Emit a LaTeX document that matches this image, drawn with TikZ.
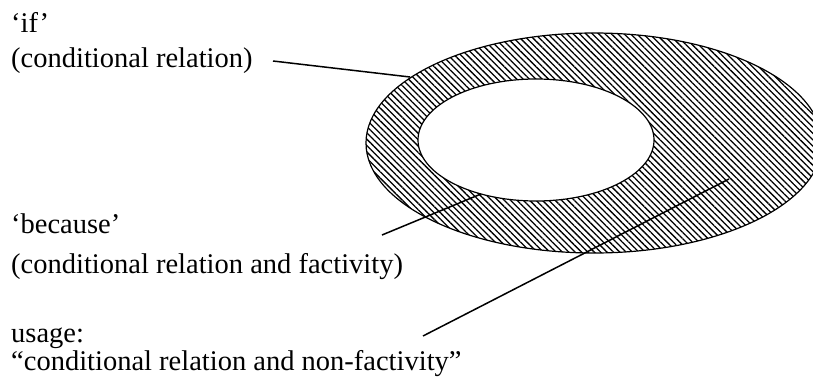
\documentclass[tikz,border=0pt]{standalone}
\usepackage{fontspec}
\setmainfont{Liberation Serif}
\usetikzlibrary{patterns.meta,shapes.geometric}
\begin{document}
\begin{tikzpicture}[x=1pt,y=-1pt,
  lbl/.style={anchor=base west,inner sep=0pt,font=\fontsize{28.5}{34}\selectfont},
  ringnode/.style={ellipse,draw,line width=1.2pt,inner sep=0pt,outer sep=0pt},
  conn/.style={line width=1.5pt}]
\useasboundingbox (0,0) rectangle (813,377);
\node[ringnode,minimum width=456pt,minimum height=220pt,
  pattern={Lines[angle=-45,distance=4.5pt,line width=1.3pt]}] (outer) at (594,143) {};
\node[ringnode,fill=white,minimum width=236pt,minimum height=122pt] (inner) at (536,140) {};
\node[lbl] (if) at (11,33) {‘if’};
\node[lbl] (ifd) at (11,68) {(conditional relation)};
\node[lbl] (bc) at (11,233) {‘because’};
\node[lbl] (bcd) at (11,273) {(conditional relation and factivity)};
\node[lbl] (us) at (11,342) {usage:};
\node[lbl] (usd) at (11,370) {“conditional relation and non-factivity”};
\coordinate (a1) at (273,61); \coordinate (b1) at (410,77);
\coordinate (a2) at (382,235); \coordinate (b2) at (481,194);
\coordinate (a3) at (423,336); \coordinate (b3) at (729,179);
\draw[conn] (a1) -- (b1);
\draw[conn] (a2) -- (b2);
\draw[conn] (a3) -- (b3);
\end{tikzpicture}
\end{document}
